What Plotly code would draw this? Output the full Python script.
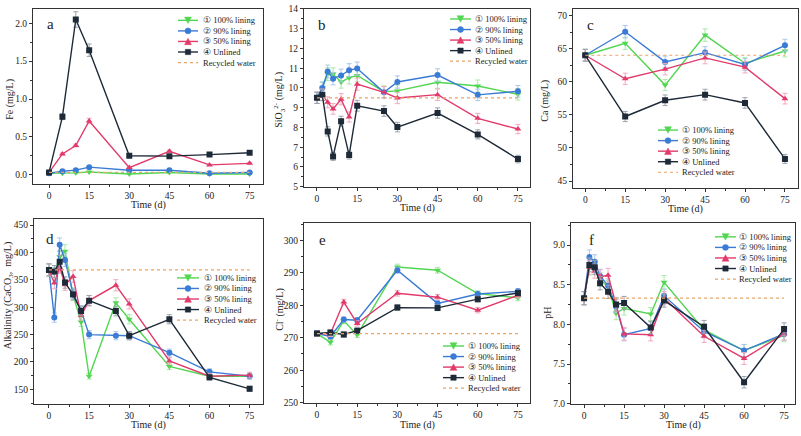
import plotly.graph_objects as go

W, H = 801, 436

# ---------------- data ----------------
T8 = [0, 5, 10, 15, 30, 45, 60, 75]
T12 = [0, 2, 4, 6, 9, 12, 15, 25, 30, 45, 60, 75]
T6 = [0, 15, 30, 45, 60, 75]
time_ticks = [0, 15, 30, 45, 60, 75]

fe_100 = [0.02, 0.02, 0.025, 0.035, 0.01, 0.03, 0.01, 0.01]
fe_90 = [0.02, 0.045, 0.06, 0.10, 0.06, 0.06, 0.02, 0.03]
fe_50 = [0.03, 0.275, 0.386, 0.71, 0.094, 0.31, 0.13, 0.15]
fe_un = [0.03, 0.766, 2.05, 1.645, 0.25, 0.245, 0.266, 0.29]

si_100 = [9.5, 10.0, 10.7, 10.7, 10.3, 10.52, 10.63, 9.81, 9.85, 10.29, 10.1, 9.68]
si_90 = [9.5, 10.0, 10.83, 10.47, 10.63, 10.9, 10.98, 9.78, 10.3, 10.65, 9.65, 9.83]
si_50 = [9.5, 9.65, 9.27, 8.94, 9.43, 8.53, 10.19, 9.78, 9.49, 9.66, 8.46, 7.92]
si_un = [9.5, 9.65, 7.8, 6.53, 8.32, 6.6, 9.1, 8.83, 8.02, 8.73, 7.65, 6.4]

ca_100 = [64, 65.8, 59.5, 67.05, 62.8, 64.65]
ca_90 = [64, 67.55, 63.0, 64.4, 62.6, 65.5]
ca_50 = [64, 60.45, 61.9, 63.6, 62.2, 57.45]
ca_un = [64, 54.75, 57.2, 58.05, 56.8, 48.35]

alk_100 = [368, 362, 392, 402, 322, 273, 174, 308, 278, 192, 174, 174]
alk_90 = [368, 281, 414, 386, 325, 294, 250, 248, 248, 217, 182, 174]
alk_50 = [368, 344, 373, 341, 356, 285, 312, 340, 306, 202, 174, 176]
alk_un = [368, 365, 383, 345, 323, 293, 312, 293, 248, 278, 172, 151]

cl_100 = [271.3, 268.6, 275.2, 270.9, 291.8, 290.8, 283.6, 282.3]
cl_90 = [271.3, 270.4, 275.6, 275.4, 290.8, 280.6, 283.5, 284.3]
cl_50 = [271.3, 271.2, 281.0, 274.4, 283.7, 282.5, 278.5, 283.1]
cl_un = [271.3, 271.6, 271.0, 272.2, 279.3, 279.2, 281.9, 283.8]

ph_100 = [8.33, 8.71, 8.71, 8.57, 8.47, 8.14, 8.20, 8.13, 8.53, 7.93, 7.67, 7.86]
ph_90 = [8.33, 8.85, 8.79, 8.61, 8.49, 8.23, 7.87, 7.95, 8.36, 7.91, 7.67, 7.88]
ph_50 = [8.33, 8.72, 8.67, 8.60, 8.62, 8.25, 7.88, 7.87, 8.33, 7.85, 7.57, 7.88]
ph_un = [8.33, 8.75, 8.72, 8.52, 8.41, 8.25, 8.27, 7.96, 8.30, 7.97, 7.27, 7.94]

recycled = {"a": 0.03, "b": 9.5, "c": 64, "d": 368, "e": 271.3, "f": 8.33}
err_pct = {"a": 5, "b": 3, "c": 1.4, "d": 3, "e": 0.3, "f": 1}

series_names = ["① 100% lining", "② 90% lining", "③ 50% lining", "④ Unlined"]
recycled_name = "Recycled water"
x_title = "Time (d)"

# ---------------- style ----------------
FONT = "Liberation Serif, Times New Roman, serif"
colors = ["#52d652", "#3a7bd5", "#e23a6a", "#1e2a38"]
err_colors = ["#a9e9a9", "#a9c6ee", "#f2a9bf", "#9aa3ad"]
symbols = ["triangle-down", "circle", "triangle-up", "square"]
rec_color = "#e9a466"

panels = [
    dict(key="a", t=T8, ys=[fe_100, fe_90, fe_50, fe_un], box=(33, 263, 4, 183),
         xr=[-6, 80], yr=[-0.12, 2.19], dt=0.5, fmt=".1f", title="Fe (mg/L)",
         ytpos=(10, 97), letter=(50, 19.5), leg=(178, 198, 202, 15.7)),
    dict(key="b", t=T12, ys=[si_100, si_90, si_50, si_un], box=(304, 530, 4, 186),
         xr=[-4.85, 79.5], yr=[5, 14], dt=1, fmt="d",
         title="SiO<sub>3</sub><sup>2-</sup> (mg/L)",
         ytpos=(279, 97), letter=(322, 20), leg=(450, 471, 474, 14.3)),
    dict(key="c", t=T6, ys=[ca_100, ca_90, ca_50, ca_un], box=(573, 798, 4, 187),
         xr=[-4.6, 79.9], yr=[44, 71], dt=5, fmt="d", title="Ca (mg/L)",
         ytpos=(545, 98), letter=(590, 20), leg=(658, 678, 681, 128)),
    dict(key="d", t=T12, ys=[alk_100, alk_90, alk_50, alk_un], box=(34, 263, 219, 408),
         xr=[-5.6, 80], yr=[124, 461], dt=50, fmt="d",
         title="Alkalinity (CaCO<sub>3</sub>,  mg/L)",
         ytpos=(8, 298), letter=(50, 239.5), leg=(177, 199, 203, 279.3)),
    dict(key="e", t=T8, ys=[cl_100, cl_90, cl_50, cl_un], box=(304, 530, 223, 407),
         xr=[-4.85, 79.5], yr=[250, 305.4], dt=10, fmt="d",
         title="Cl<sup>-</sup> (mg/L)",
         ytpos=(280, 312), letter=(322, 241), leg=(443, 464, 467, 349)),
    dict(key="f", t=T12, ys=[ph_100, ph_90, ph_50, ph_un], box=(571, 795, 223, 408),
         xr=[-4.9, 79.1], yr=[7.0, 9.28], dt=0.5, fmt=".1f", title="pH",
         ytpos=(548, 315), letter=(591, 241), leg=(715, 736, 738, 237.3)),
]

fig = go.Figure()
layout = dict(
    width=W, height=H, margin=dict(l=0, r=0, t=0, b=0),
    paper_bgcolor="white", plot_bgcolor="white", showlegend=False,
    font=dict(family=FONT, size=10, color="#222"),
)
annotations = []
shapes = []


def px(x):
    return x / W


def py(y):
    return 1 - y / H


def marker_shape(kind, cx, cy, color, r=3.0):
    base = dict(xref="paper", yref="paper", fillcolor=color, line=dict(color=color, width=0.5))
    if kind == "circle":
        return dict(base, type="circle", x0=px(cx - r), x1=px(cx + r), y0=py(cy + r), y1=py(cy - r))
    if kind == "square":
        return dict(base, type="rect", x0=px(cx - r * 0.9), x1=px(cx + r * 0.9),
                    y0=py(cy + r * 0.9), y1=py(cy - r * 0.9))
    h = r * 1.1
    if kind == "triangle-up":
        pts = [(cx - r * 1.15, cy + h), (cx + r * 1.15, cy + h), (cx, cy - h)]
    else:
        pts = [(cx - r * 1.15, cy - h), (cx + r * 1.15, cy - h), (cx, cy + h)]
    path = "M " + " L ".join(f"{px(a):.5f},{py(b):.5f}" for a, b in pts) + " Z"
    return dict(base, type="path", path=path)


def text_ann(text, x, y, size, **kw):
    d = dict(text=text, x=px(x), y=py(y), xref="paper", yref="paper", showarrow=False,
             xanchor="center", yanchor="middle", borderpad=0,
             font=dict(family=FONT, size=size, color="#222"))
    d.update(kw)
    return d


for i, p in enumerate(panels):
    n = "" if i == 0 else str(i + 1)
    xa, ya = "x" + n, "y" + n
    x0, x1, y0, y1 = p["box"]
    for s in range(4):
        fig.add_trace(go.Scatter(
            x=p["t"], y=p["ys"][s], xaxis=xa, yaxis=ya, mode="lines+markers",
            name=series_names[s],
            line=dict(color=colors[s], width=1.4),
            marker=dict(symbol=symbols[s], size=6, color=colors[s]),
            error_y=dict(type="percent", value=err_pct[p["key"]], color=err_colors[s],
                         thickness=1, width=2.5),
        ))
    fig.add_trace(go.Scatter(
        x=[p["t"][0], p["t"][-1]], y=[recycled[p["key"]]] * 2, xaxis=xa, yaxis=ya,
        mode="lines", name=recycled_name,
        line=dict(color=rec_color, width=1.2, dash="dot"),
    ))
    axcommon = dict(showline=True, mirror=True, linecolor="#333", linewidth=1,
                    ticks="outside", ticklen=3, tickwidth=1, tickcolor="#333",
                    showgrid=False, zeroline=False, ticklabeloverflow="allow",
                    tickfont=dict(family=FONT, size=9.5, color="#222"))
    layout["xaxis" + n] = dict(
        axcommon, domain=[px(x0), px(x1)], range=p["xr"], anchor=ya,
        tickmode="array", tickvals=time_ticks,
        minor=dict(ticks="outside", ticklen=2, tickvals=[7.5, 22.5, 37.5, 52.5, 67.5],
                   tickcolor="#333"),
    )
    layout["yaxis" + n] = dict(
        axcommon, domain=[py(y1), py(y0)], range=p["yr"], anchor=xa,
        dtick=p["dt"], tickformat=p["fmt"],
        minor=dict(ticks="outside", ticklen=2, dtick=p["dt"] / 2, tickcolor="#333"),
    )
    # axis titles
    xt_y = (y1 + 22) if y1 < 200 else 429.5
    annotations.append(text_ann(x_title, (x0 + x1) / 2, xt_y, 10))
    annotations.append(text_ann(p["title"], p["ytpos"][0], p["ytpos"][1], 10, textangle=-90))
    # panel letter
    annotations.append(text_ann(p["key"], p["letter"][0], p["letter"][1], 15))
    # custom legend
    lx0, lx1, tx, ry = p["leg"]
    pitch = 10.8
    for r in range(5):
        yy = ry + r * pitch
        if r < 4:
            shapes.append(dict(type="line", xref="paper", yref="paper",
                               x0=px(lx0), x1=px(lx1), y0=py(yy), y1=py(yy),
                               line=dict(color=colors[r], width=1.4)))
            shapes.append(marker_shape(symbols[r], (lx0 + lx1) / 2, yy, colors[r]))
            label = series_names[r]
        else:
            shapes.append(dict(type="line", xref="paper", yref="paper",
                               x0=px(lx0), x1=px(lx1), y0=py(yy), y1=py(yy),
                               line=dict(color=rec_color, width=1.2, dash="dot")))
            label = recycled_name
        annotations.append(text_ann(label, tx, yy, 8.5, xanchor="left"))

layout["annotations"] = annotations
layout["shapes"] = shapes
fig.update_layout(**layout)
fig.write_html("out.html", config={"displayModeBar": False},
               post_script="document.body.style.margin='0';document.body.style.padding='0';")
